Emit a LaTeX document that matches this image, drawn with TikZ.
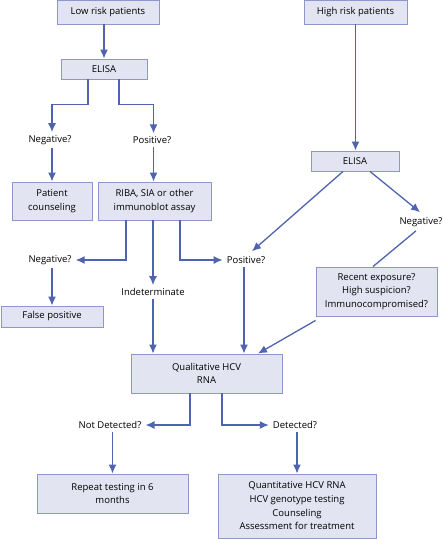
\documentclass[tikz,border=0pt]{standalone}
\usepackage{fontspec}
\setmainfont{Open Sans}
\usetikzlibrary{arrows.meta,calc}
\definecolor{boxfill}{HTML}{E2E4F2}
\definecolor{boxline}{HTML}{8E97CB}
\definecolor{arrcol}{HTML}{5063AE}
\begin{document}
\begin{tikzpicture}[x=1pt,y=-1pt,
  font=\fontsize{9.5}{13.7}\selectfont,
  box/.style={draw=boxline,fill=boxfill,line width=0.9pt,align=center,inner sep=0pt},
  lbl/.style={inner xsep=4pt,inner ysep=3pt,align=center},
  arr/.style={draw=arrcol,line width=1.3pt,-{Latex[length=9pt,width=8pt]}},
  ln/.style={draw=arrcol,line width=1.3pt}]
\useasboundingbox (0,0) rectangle (446,539);
% boxes
\node[box,minimum width=102pt,minimum height=23.5pt] (low) at (108,12.25) {Low risk patients};
\node[box,minimum width=86pt,minimum height=20pt] (elisa1) at (104,69) {ELISA};
\node[box,minimum width=80pt,minimum height=38pt] (pc) at (52,201) {Patient\\counseling};
\node[box,minimum width=113pt,minimum height=38pt] (riba) at (154.5,201) {RIBA, SIA or other\\immunoblot assay};
\node[box,minimum width=102pt,minimum height=21pt] (fp) at (52,316.5) {False positive};
\node[box,minimum width=151pt,minimum height=39pt] (qual) at (206.5,373.5) {Qualitative HCV\\RNA};
\node[box,minimum width=103pt,minimum height=23.5pt] (high) at (355.5,12.25) {High risk patients};
\node[box,minimum width=88pt,minimum height=20pt] (elisa2) at (355,161) {ELISA};
\node[box,minimum width=121pt,minimum height=49pt] (recent) at (376.5,291.5) {Recent exposure?\\High suspicion?\\Immunocompromised?};
\node[box,minimum width=151pt,minimum height=39pt] (repeat) at (112.5,493.5) {Repeat testing in 6\\months};
\node[box,minimum width=158pt,minimum height=64pt] (final) at (297,506) {Quantitative HCV RNA\\HCV genotype testing\\Counseling\\Assessment for treatment};
% labels
\node[lbl] (neg1) at (50,140) {Negative?};
\node[lbl] (pos1) at (152,140) {Positive?};
\node[lbl] (neg2) at (50,260) {Negative?};
\node[lbl] (ind) at (153,292) {Indeterminate};
\node[lbl] (pos2) at (246,260) {Positive?};
\node[lbl] (neg3) at (421,222) {Negative?};
\node[lbl] (notdet) at (110,425) {Not Detected?};
\node[lbl] (det) at (295,425) {Detected?};
% connectors
\draw[arr] (elisa1.north |- low.south) -- (elisa1.north);
\draw[arr] ([xshift=-16pt]elisa1.south) -- ++(0,25) -| (pc.north |- neg1.north);
\draw[arr] ([xshift=15pt]elisa1.south) -- ++(0,25) -| ([xshift=-1pt]riba.north |- pos1.north);
\draw[arr] (pc.north |- neg1.south) -- (pc.north);
\draw[arr] ([xshift=-1pt]riba.north |- pos1.south) -- ([xshift=-1pt]riba.north);
\draw[arr] ([xshift=-28.5pt]riba.south) |- (neg2.east);
\draw[arr] (ind.north |- riba.south) -- (ind.north);
\draw[arr] ([xshift=25.5pt]riba.south) |- (pos2.west);
\draw[arr] (fp.north |- neg2.south) -- (fp.north);
\draw[arr] (ind.south) -- (ind.south |- qual.north);
\draw[arr] ([xshift=-2pt]pos2.south) -- ([xshift=-2pt]pos2.south |- qual.north);
\draw[arr] ([yshift=-4pt]recent.south west) -- ([xshift=51.5pt]qual.north);
\draw[arr] ([xshift=0.5pt]elisa2.north |- high.south) -- ([xshift=0.5pt]elisa2.north);
\draw[arr] ([xshift=-12pt]elisa2.south) -- ([xshift=6pt,yshift=2pt]pos2.north);
\draw[arr] ([xshift=15pt]elisa2.south) -- ([xshift=-1pt,yshift=2pt]neg3.north);
\draw[ln] ([xshift=-5pt,yshift=-1pt]neg3.south) -- ([xshift=-3.5pt]recent.north);
\draw[arr] ([xshift=-16.5pt]qual.south) |- (notdet.east);
\draw[arr] ([xshift=15.5pt]qual.south) |- (det.west);
\draw[arr] (repeat.north |- notdet.south) -- (repeat.north);
\draw[arr] (final.north |- det.south) -- (final.north);
\end{tikzpicture}
\end{document}
